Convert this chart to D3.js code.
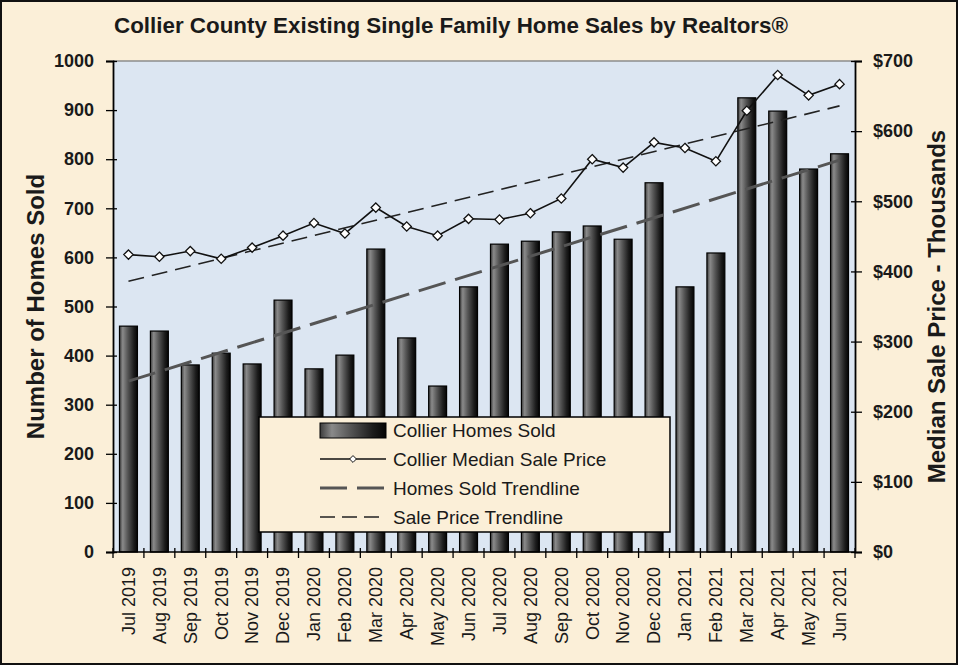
<!DOCTYPE html>
<html>
	<head>
		<title>Collier County Home Sales</title>
		<script src="https://d3js.org/d3.v7.min.js"></script>
		<style>
			body { margin: 0; }
			text { font-family: Arial, "Liberation Sans", sans-serif; fill: #1a1a1a; }
		</style>
	</head>

	<body>

		<svg width="958" height="665">
		</svg>

        <script type="text/javascript">

			var months = ["Jul 2019", "Aug 2019", "Sep 2019", "Oct 2019", "Nov 2019", "Dec 2019",
				"Jan 2020", "Feb 2020", "Mar 2020", "Apr 2020", "May 2020", "Jun 2020",
				"Jul 2020", "Aug 2020", "Sep 2020", "Oct 2020", "Nov 2020", "Dec 2020",
				"Jan 2021", "Feb 2021", "Mar 2021", "Apr 2021", "May 2021", "Jun 2021"];

			var homesSold = [460, 450, 381, 405, 383, 513, 373, 401, 617, 436, 338, 540,
				627, 633, 652, 664, 637, 752, 540, 609, 925, 898, 780, 811];

			// median sale price, $ thousands
			var medianPrice = [424, 421, 429, 418, 434, 451, 469, 454, 491, 464, 451, 475,
				474, 483, 504, 560, 548, 584, 576, 557, 629, 680, 651, 667];

			// trendline values at first and last month
			var homesTrend = [348, 798];
			var priceTrend = [386, 636];

			var leftTicks = [0, 100, 200, 300, 400, 500, 600, 700, 800, 900, 1000];
			var rightTicks = [0, 100, 200, 300, 400, 500, 600, 700];

			var legendLabels = ["Collier Homes Sold", "Collier Median Sale Price",
				"Homes Sold Trendline", "Sale Price Trendline"];

			var svg = d3.select("svg"),
			    margin = {top: 61, right: 103, bottom: 113, left: 113},
			    width = +svg.attr("width") - margin.left - margin.right,
			    height = +svg.attr("height") - margin.top - margin.bottom;

			// page background + frame
			svg.append("rect")
				.attr("x", 1).attr("y", 1)
				.attr("width", 956).attr("height", 663)
				.attr("fill", "#fbefd8")
				.attr("stroke", "#111")
				.attr("stroke-width", 2);

			var defs = svg.append("defs");
			var grad = defs.append("linearGradient")
				.attr("id", "barGrad")
				.attr("x1", "0%").attr("x2", "100%")
				.attr("y1", "0%").attr("y2", "0%");
			grad.append("stop").attr("offset", "0%").attr("stop-color", "#3c3c3c");
			grad.append("stop").attr("offset", "18%").attr("stop-color", "#8a8a8a");
			grad.append("stop").attr("offset", "45%").attr("stop-color", "#575757");
			grad.append("stop").attr("offset", "80%").attr("stop-color", "#1c1c1c");
			grad.append("stop").attr("offset", "100%").attr("stop-color", "#050505");

			svg.append("text")
				.attr("x", 114)
				.attr("y", 33)
				.attr("font-size", "22px")
				.attr("font-weight", "bold")
				.attr("textLength", 674)
				.attr("lengthAdjust", "spacingAndGlyphs")
				.text("Collier County Existing Single Family Home Sales by Realtors\u00ae");

			var g = svg.append("g").attr("transform", "translate(" + margin.left + "," + margin.top + ")");

			var xScale = d3.scaleBand()
				.domain(months)
				.range([0, width])
				.paddingInner(0.42)
				.paddingOuter(0.21);

			var yLeft = d3.scaleLinear()
				.domain([0, 1000])
				.range([height, 0]);

			var yRight = d3.scaleLinear()
				.domain([0, 700])
				.range([height, 0]);

			var xCenter = function(m) { return xScale(m) + xScale.bandwidth() / 2; };

			// plot area
			g.append("rect")
				.attr("width", width)
				.attr("height", height)
				.attr("fill", "#dce6f2");
			g.append("line")
				.attr("x1", 0).attr("x2", width)
				.attr("y1", 0).attr("y2", 0)
				.attr("stroke", "#8c8c8c")
				.attr("stroke-width", 1.5);

			// bars
			g.selectAll(".bar")
				.data(months)
				.enter().append("rect")
				.attr("class", "bar")
				.attr("x", function(d) { return xScale(d); })
				.attr("y", function(d, i) { return yLeft(homesSold[i]); })
				.attr("width", xScale.bandwidth())
				.attr("height", function(d, i) { return height - yLeft(homesSold[i]); })
				.attr("fill", "url(#barGrad)")
				.attr("stroke", "#000")
				.attr("stroke-width", 1.2);

			// trendlines
			var ends = [months[0], months[months.length - 1]];
			var trendLine = function(scale, vals) {
				return d3.line()
					.x(function(d, i) { return xCenter(ends[i]); })
					.y(function(d) { return scale(d); })(vals);
			};

			g.append("path")
				.attr("fill", "none")
				.attr("stroke", "#555")
				.attr("stroke-width", 3)
				.attr("stroke-dasharray", "28,10")
				.attr("d", trendLine(yLeft, homesTrend));

			g.append("path")
				.attr("fill", "none")
				.attr("stroke", "#222")
				.attr("stroke-width", 1.6)
				.attr("stroke-dasharray", "16,8")
				.attr("d", trendLine(yRight, priceTrend));

			// price line
			var lineGenerator = d3.line()
				.x(function(d, i) { return xCenter(months[i]); })
				.y(function(d) { return yRight(d); });

			g.append("path")
				.attr("fill", "none")
				.attr("stroke", "#111")
				.attr("stroke-width", 1.6)
				.attr("d", lineGenerator(medianPrice));

			var diamond = d3.symbol().type(d3.symbolDiamond2).size(55);

			g.selectAll(".pt")
				.data(medianPrice)
				.enter().append("path")
				.attr("class", "pt")
				.attr("transform", function(d, i) { return "translate(" + xCenter(months[i]) + "," + yRight(d) + ")"; })
				.attr("d", diamond)
				.attr("fill", "#fff")
				.attr("stroke", "#111")
				.attr("stroke-width", 1.3);

			// axes
			var leftAxis = g.append("g")
				.call(d3.axisLeft(yLeft).tickValues(leftTicks).tickSize(7).tickPadding(12)
					.tickFormat(d3.format("d")));
			var rightAxis = g.append("g")
				.attr("transform", "translate(" + width + ",0)")
				.call(d3.axisRight(yRight).tickValues(rightTicks).tickSize(7).tickPadding(12)
					.tickFormat(function(d) { return "$" + d; }));

			var bottomAxis = g.append("g")
				.attr("transform", "translate(0," + height + ")");
			bottomAxis.append("line")
				.attr("x1", 0).attr("x2", width)
				.attr("stroke", "#000").attr("stroke-width", 1.5);
			bottomAxis.selectAll(".xtick")
				.data(d3.range(months.length + 1))
				.enter().append("line")
				.attr("x1", function(i) { return i * xScale.step(); })
				.attr("x2", function(i) { return i * xScale.step(); })
				.attr("y1", -4).attr("y2", 6)
				.attr("stroke", "#000").attr("stroke-width", 1.3);
			bottomAxis.selectAll(".xlab")
				.data(months)
				.enter().append("text")
				.attr("transform", function(d) { return "translate(" + xCenter(d) + ",15) rotate(-90)"; })
				.attr("text-anchor", "end")
				.attr("dy", "0.35em")
				.attr("font-size", "18px")
				.text(function(d) { return d; });

			[leftAxis, rightAxis].forEach(function(ax) {
				ax.select(".domain").attr("stroke", "#000").attr("stroke-width", 1.8);
				ax.selectAll(".tick line").attr("stroke", "#000").attr("stroke-width", 1.3);
				ax.selectAll(".tick text")
					.attr("font-size", "18px")
					.attr("font-weight", "bold")
					.attr("fill", "#1a1a1a");
			});
			// ticks cross the axis line
			leftAxis.selectAll(".tick line").attr("x1", 4);
			rightAxis.selectAll(".tick line").attr("x1", -4);
			leftAxis.selectAll(".tick text").attr("x", -19);
			rightAxis.selectAll(".tick text").attr("x", 18);

			// axis titles
			svg.append("text")
				.attr("transform", "translate(44," + (margin.top + height / 2) + ") rotate(-90)")
				.attr("text-anchor", "middle")
				.attr("font-size", "24px")
				.attr("font-weight", "bold")
				.text("Number of Homes Sold");

			svg.append("text")
				.attr("transform", "translate(945," + (margin.top + height / 2) + ") rotate(-90)")
				.attr("text-anchor", "middle")
				.attr("font-size", "24px")
				.attr("font-weight", "bold")
				.text("Median Sale Price - Thousands");

			// legend
			var legend = svg.append("g").attr("transform", "translate(259,417)");
			legend.append("rect")
				.attr("width", 411)
				.attr("height", 115)
				.attr("fill", "#fbefd8")
				.attr("stroke", "#000")
				.attr("stroke-width", 1.5);

			var rowY = function(i) { return 13 + i * 29; };

			legend.append("rect")
				.attr("x", 61).attr("y", rowY(0) - 7)
				.attr("width", 66).attr("height", 15)
				.attr("fill", "url(#barGrad)")
				.attr("stroke", "#000");

			legend.append("line")
				.attr("x1", 61).attr("x2", 127)
				.attr("y1", rowY(1)).attr("y2", rowY(1))
				.attr("stroke", "#111").attr("stroke-width", 1.4);
			legend.append("path")
				.attr("transform", "translate(94," + rowY(1) + ")")
				.attr("d", d3.symbol().type(d3.symbolDiamond2).size(30))
				.attr("fill", "#fff").attr("stroke", "#111");

			legend.append("line")
				.attr("x1", 61).attr("x2", 127)
				.attr("y1", rowY(2)).attr("y2", rowY(2))
				.attr("stroke", "#555").attr("stroke-width", 3)
				.attr("stroke-dasharray", "27,10");

			legend.append("line")
				.attr("x1", 61).attr("x2", 127)
				.attr("y1", rowY(3)).attr("y2", rowY(3))
				.attr("stroke", "#222").attr("stroke-width", 1.5)
				.attr("stroke-dasharray", "15,7");

			legend.selectAll(".ltext")
				.data(legendLabels)
				.enter().append("text")
				.attr("x", 134)
				.attr("y", function(d, i) { return rowY(i); })
				.attr("dy", "0.36em")
				.attr("font-size", "19px")
				.text(function(d) { return d; });

        </script>

	</body>
</html>
